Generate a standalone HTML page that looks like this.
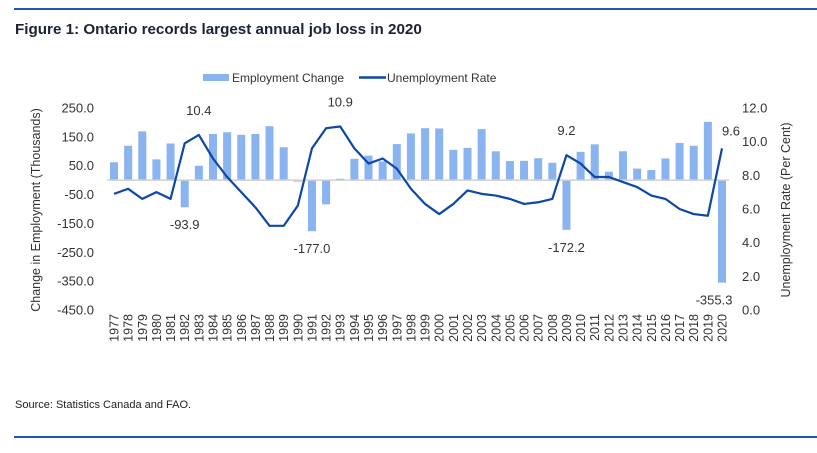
<!DOCTYPE html>
<html><head><meta charset="utf-8"><style>
body{margin:0;background:#fff;width:817px;height:448px;overflow:hidden;font-family:"Liberation Sans",Arial,sans-serif}
svg text{font-family:"Liberation Sans",Arial,sans-serif}
</style></head><body>
<svg id="c" width="817" height="448" xmlns="http://www.w3.org/2000/svg">
<line x1="14" y1="9" x2="817" y2="9" stroke="#1f55b8" stroke-width="2"/>
<text x="15" y="34" font-size="15.2" font-weight="bold" fill="#1a2238">Figure 1: Ontario records largest annual job loss in 2020</text>
<rect x="203" y="74" width="26" height="7" fill="#8ab4f0"/>
<text x="232" y="82" font-size="12" fill="#333">Employment Change</text>
<line x1="359" y1="77.5" x2="386" y2="77.5" stroke="#0d47a8" stroke-width="2.5"/>
<text x="387" y="82" font-size="12" fill="#333">Unemployment Rate</text>
<text transform="translate(40,210) rotate(-90)" text-anchor="middle" font-size="12.5" fill="#333">Change in Employment (Thousands)</text>
<text transform="translate(790,210) rotate(-90)" text-anchor="middle" font-size="12.5" fill="#333">Unemployment Rate (Per Cent)</text>
<text x="15" y="408" font-size="11" fill="#222">Source: Statistics Canada and FAO.</text>
<line x1="14" y1="437" x2="817" y2="437" stroke="#1f55b8" stroke-width="2"/>
<g id="g"></g>
</svg>
<script>
const years=[];for(let y=1977;y<=2020;y++)years.push(String(y));
const employmentChange=[62,119,169,72,127,-93.9,50,160,166,157,160,187,114,-5,-177.0,-84,5,74,85,65,125,162,180,179,105,112,177,100,66,67,76,60,-172.2,98,124,29,100,40,35,75,129,119,202,-355.3];
const unemploymentRate=[6.9,7.2,6.6,7.0,6.6,9.9,10.4,9.0,7.9,7.0,6.1,5.0,5.0,6.2,9.6,10.8,10.9,9.6,8.7,9.0,8.4,7.2,6.3,5.7,6.3,7.1,6.9,6.8,6.6,6.3,6.4,6.6,9.2,8.7,7.9,7.9,7.6,7.3,6.8,6.6,6.0,5.7,5.6,9.6];
const leftTicks=[250,150,50,-50,-150,-250,-350,-450];
const rightTicks=[12,10,8,6,4,2,0];
const barLabels={1982:"-93.9",1991:"-177.0",2009:"-172.2",2020:"-355.3"};
const lineLabels={1983:"10.4",1993:"10.9",2009:"9.2",2020:"9.6"};
const NS="http://www.w3.org/2000/svg",g=document.getElementById('g');
const yTop=108,yBot=310;
const yL=v=>yTop+(250-v)*(yBot-yTop)/700;
const yR=v=>yTop+(12-v)*(yBot-yTop)/12;
const x0=114,step=(722-114)/43;
const xC=i=>x0+i*step;
function el(t,a){const e=document.createElementNS(NS,t);for(const k in a)e.setAttribute(k,a[k]);g.appendChild(e);return e;}
leftTicks.forEach(v=>{const t=el('text',{x:94,y:yL(v)+4.5,'text-anchor':'end','font-size':13,fill:'#333'});t.textContent=v.toFixed(1);

});
rightTicks.forEach(v=>{const t=el('text',{x:742,y:yR(v)+4.5,'font-size':13,fill:'#333'});t.textContent=v.toFixed(1);

});
employmentChange.forEach((v,i)=>{const y0=yL(0),y1=yL(v);const r=el('rect',{x:xC(i)-4,y:Math.min(y0,y1),width:8,height:Math.abs(y1-y0),fill:'#8ab4f0'});


if(barLabels[years[i]]){const t=el('text',{x:xC(i)-(years[i]==='2020'?8:0),y:y1+22,'text-anchor':'middle','font-size':13,fill:'#333'});t.textContent=barLabels[years[i]];

}});
const z=el('line',{x1:107,x2:729,y1:yL(0),y2:yL(0),stroke:'#d0d0d0','stroke-width':1.5});


const p=el('polyline',{points:unemploymentRate.map((v,i)=>xC(i)+','+yR(v)).join(' '),fill:'none',stroke:'#0d47a8','stroke-width':2.2,'stroke-linejoin':'round'});


unemploymentRate.forEach((v,i)=>{if(lineLabels[years[i]]){const last=years[i]==='2020';const t=el('text',{x:xC(i)+(last?9:0),y:yR(v)-(last?13:20),'text-anchor':'middle','font-size':13,fill:'#333'});t.textContent=lineLabels[years[i]];

}});
years.forEach((y,i)=>{const t=el('text',{transform:`translate(${xC(i)+4.5},314) rotate(-90)`,'text-anchor':'end','font-size':12.5,fill:'#333'});t.textContent=y;

});
</script>
</body></html>
